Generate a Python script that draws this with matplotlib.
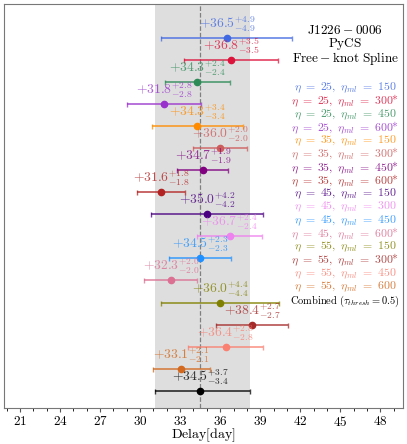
import matplotlib
matplotlib.use("Agg")
import matplotlib.pyplot as plt
from matplotlib.ticker import MultipleLocator

plt.rcParams['mathtext.fontset'] = 'cm'
plt.rcParams['font.family'] = 'serif'
plt.rcParams['font.serif'] = ['cmr10', 'DejaVu Serif']
plt.rcParams['axes.formatter.use_mathtext'] = True

# estimates
eta = [25, 25, 25, 25, 35, 35, 35, 35, 45, 45, 45, 45, 55, 55, 55, 55]
eta_ml = [150, 300, 450, 600, 150, 300, 450, 600, 150, 300, 450, 600, 150, 300, 450, 600]
starred = [0, 1, 0, 1, 0, 1, 1, 1, 0, 0, 0, 1, 0, 1, 0, 0]
delays = [36.5, 36.8, 34.3, 31.8, 34.3, 36.0, 34.7, 31.6,
          35.0, 36.7, 34.5, 32.3, 36.0, 38.4, 36.4, 33.1]
err_up = [4.9, 3.5, 2.4, 2.8, 3.4, 2.0, 1.9, 1.8, 4.2, 2.4, 2.3, 2.0, 4.4, 2.7, 2.8, 2.1]
err_down = [4.9, 3.5, 2.4, 2.8, 3.4, 2.0, 1.9, 1.8, 4.2, 2.4, 2.3, 2.0, 4.4, 2.7, 2.8, 2.1]
colors = ['royalblue', 'crimson', 'seagreen', 'darkorchid', 'darkorange', 'indianred',
          'purple', 'firebrick', 'indigo', 'violet', 'dodgerblue', 'palevioletred',
          'olive', 'brown', 'salmon', 'chocolate']

comb_delay, comb_up, comb_down = 34.5, 3.7, 3.4

fig = plt.figure(figsize=(4.07, 4.44), dpi=100)
ax = fig.add_axes([0.0098, 0.081, 0.9804, 0.910])

n = len(delays)
ax.axvspan(comb_delay - comb_down, comb_delay + comb_up, color='#dedede', zorder=0, lw=0)
ax.axvline(comb_delay, color='gray', ls='--', lw=0.9, zorder=1)

def draw_row(y, d, up, down, c):
  ax.errorbar([d], [y], xerr=[[down], [up]], fmt='none', ecolor=c, elinewidth=1.3,
              capsize=1.8, capthick=1.0, alpha=0.75, zorder=2)
  ax.plot([d], [y], 'o', color=c, ms=4.5, zorder=3)
  ax.text(d, y + 0.43, r"$+%.1f^{+%.1f}_{-%.1f}$" % (d, up, down), color=c,
          ha='center', va='baseline', fontsize=9.8, alpha=0.8)

for i in range(n):
  draw_row(-i, delays[i], err_up[i], err_down[i], colors[i])
draw_row(-n, comb_delay, comb_up, comb_down, 'black')

ax.set_xlim(19.8, 49.7)
ax.set_ylim(-n - 0.78, 1.53)
ax.xaxis.set_major_locator(MultipleLocator(3))
ax.xaxis.set_minor_locator(MultipleLocator(1))
ax.set_xticks(range(21, 49, 3))
ax.tick_params(axis='x', labelsize=9.5, length=3, pad=2, color='#555555')
ax.tick_params(axis='x', which='minor', length=2)
ax.set_yticks([])
for s in ax.spines.values():
  s.set_color('#777777')
ax.set_xlabel(r"$\mathrm{Delay[day]}$", fontsize=10, labelpad=-2)

tx = 0.855
ax.text(tx, 0.934, r"$\mathrm{J1226-0006}$", transform=ax.transAxes, ha='center', va='center', fontsize=9.5)
ax.text(tx, 0.900, r"$\mathrm{PyCS}$", transform=ax.transAxes, ha='center', va='center', fontsize=9.5)
ax.text(tx, 0.865, r"$\mathrm{Free-knot\ Spline}$", transform=ax.transAxes, ha='center', va='center', fontsize=9.5)
for i in range(n):
  lab = r"$\eta\ =\ %d,\ \eta_{ml}\ =\ %d$" % (eta[i], eta_ml[i])
  if starred[i]:
    lab += "*"
  ax.text(tx, 0.792 - i * 0.0328, lab, color=colors[i], transform=ax.transAxes,
          ha='center', va='center', fontsize=8.5, alpha=0.85)
ax.text(tx, 0.265, r"$\mathrm{Combined}\ (\tau_{thresh} = 0.5)$", transform=ax.transAxes,
        ha='center', va='center', fontsize=7.5)

fig.savefig('out.png', dpi=100)
